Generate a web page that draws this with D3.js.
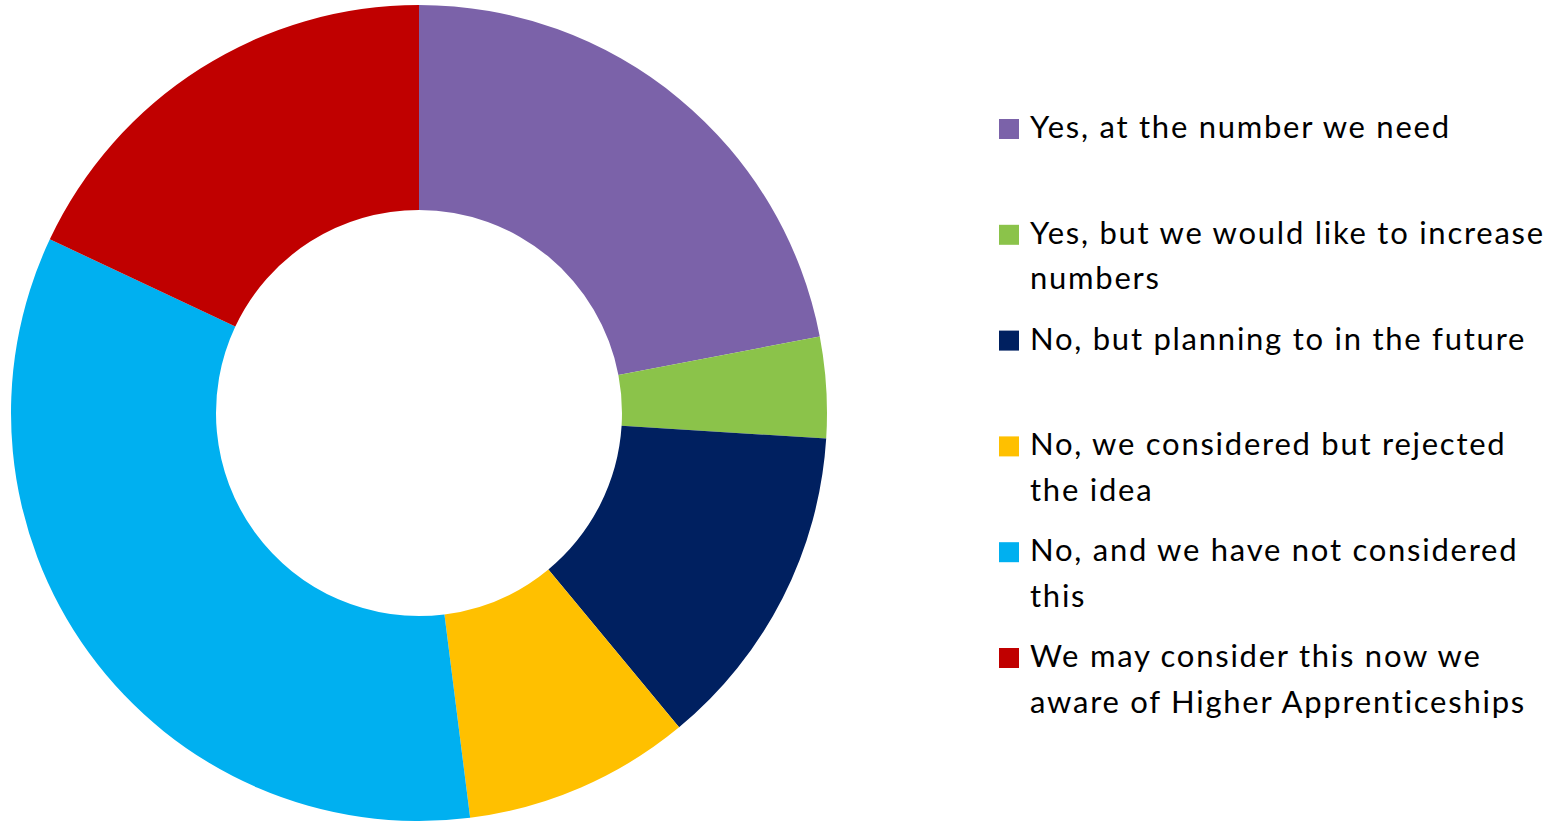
<!DOCTYPE html>
<html>
<head>
<meta charset="utf-8">
<script src="https://cdn.jsdelivr.net/npm/d3@7"></script>
<style>
  body { margin: 0; background: #fff; }
  svg { display: block; }
  .legend text { font-family: Lato, "Open Sans", sans-serif; font-size: 31px; letter-spacing: 1.75px; fill: #000; }
</style>
</head>
<body>
<div id="chart"></div>
<script>
// slice categories (legend lines already broken as in the picture)
var categories = [
    ["Yes, at the number we need"],
    ["Yes, but we would like to increase", "numbers"],
    ["No, but planning to in the future"],
    ["No, we considered but rejected", "the idea"],
    ["No, and we have not considered", "this"],
    ["We may consider this now we", "aware of Higher Apprenticeships"]
];
// share of responses (%)
var values = [22, 4, 13, 9, 34, 18];
var colors = ["#7B62A9", "#8BC34A", "#002060", "#FFC000", "#00B0F0", "#C00000"];

var width = 1558, height = 822;

var svg = d3.select("#chart").append("svg")
    .attr("width", width)
    .attr("height", height);

//donut
var cx = 419, cy = 413;
var outerR = 408, innerR = 203;

var pie = d3.pie().sort(null).value(function(d){ return d; });
var arc = d3.arc().innerRadius(innerR).outerRadius(outerR);

var donut = svg.append("g")
    .attr("transform", "translate(" + cx + "," + cy + ")");

donut.selectAll("path")
    .data(pie(values))
    .enter().append("path")
    .attr("d", arc)
    .attr("fill", function(d, i){ return colors[i]; });

//legend
var legendX = 999, textX = 1030;
var firstBaseline = 138, entryStep = 105.8, lineStep = 45.5;

var legend = svg.append("g").classed("legend", true);

var items = legend.selectAll("g")
    .data(categories)
    .enter().append("g")
    .attr("transform", function(d, i){ return "translate(0," + (firstBaseline + i * entryStep) + ")"; });

items.append("rect")
    .attr("x", legendX)
    .attr("y", -19)
    .attr("width", 20)
    .attr("height", 20)
    .attr("fill", function(d, i){ return colors[i]; });

items.append("text")
    .selectAll("tspan")
    .data(function(d){ return d; })
    .enter().append("tspan")
    .attr("x", textX)
    .attr("y", function(d, j){ return j * lineStep; })
    .text(function(d){ return d; });
</script>
</body>
</html>
